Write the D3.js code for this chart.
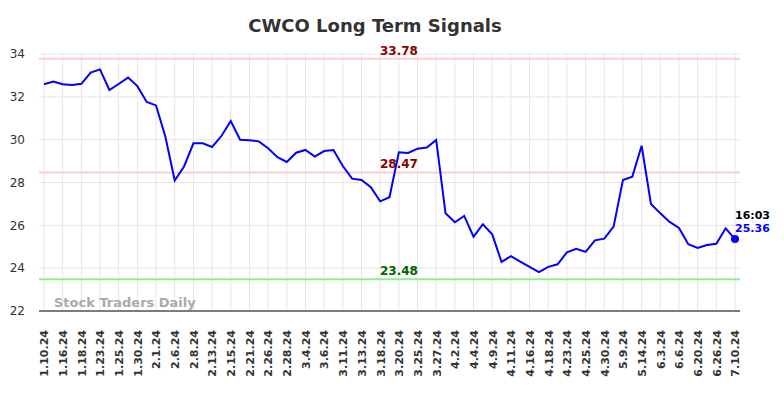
<!DOCTYPE html>
<html>
<head>
<meta charset="utf-8">
<script src="https://cdn.jsdelivr.net/npm/d3@7"></script>
<style>
  body { margin: 0; background: #fff; }
  svg { font-family: "DejaVu Sans", sans-serif; }
</style>
</head>
<body>
<div id="chart-area"></div>
<script>
// tick labels (one every other trading point)
var dateLabels = ["1.10.24","1.16.24","1.18.24","1.23.24","1.25.24","1.30.24","2.1.24","2.6.24",
  "2.8.24","2.13.24","2.15.24","2.21.24","2.26.24","2.28.24","3.4.24","3.6.24","3.11.24",
  "3.13.24","3.18.24","3.20.24","3.25.24","3.27.24","4.2.24","4.4.24","4.9.24","4.11.24",
  "4.16.24","4.18.24","4.23.24","4.25.24","4.30.24","5.9.24","5.14.24","6.3.24","6.6.24",
  "6.20.24","6.26.24","7.10.24"];

var prices = [32.59,32.71,32.59,32.55,32.61,33.13,33.28,32.32,32.60,32.90,
  32.50,31.76,31.60,30.14,28.09,28.75,29.83,29.83,29.66,30.17,
  30.87,30.00,29.97,29.92,29.60,29.18,28.96,29.39,29.52,29.21,
  29.47,29.52,28.77,28.18,28.12,27.78,27.12,27.31,29.41,29.38,
  29.58,29.63,29.99,26.56,26.14,26.44,25.47,26.05,25.58,24.29,
  24.56,24.31,24.06,23.82,24.06,24.18,24.74,24.90,24.76,25.30,
  25.38,25.94,28.12,28.27,29.72,27.00,26.56,26.16,25.88,25.12,
  24.94,25.08,25.14,25.86,25.36];

var signalValues = [33.78, 28.47, 23.48];
var signalKinds = ["resistance", "resistance", "support"];
var yTicks = [22, 24, 26, 28, 30, 32, 34];
var lastTime = "16:03";

var width = 784, height = 398;
var plotL = 39, plotR = 740, plotT = 54, plotB = 311;

var svg = d3.select("#chart-area").append("svg")
  .attr("width", width)
  .attr("height", height);

var x = d3.scalePoint()
  .domain(d3.range(prices.length))
  .range([plotL + 5, plotR - 5]);

var y = d3.scaleLinear()
  .domain([22, 34])
  .range([plotB, plotT]);

// title
svg.append("text")
  .attr("x", 375)
  .attr("y", 32)
  .attr("text-anchor", "middle")
  .attr("font-size", 18)
  .attr("font-weight", "bold")
  .attr("fill", "#333")
  .text("CWCO Long Term Signals");

// horizontal grid
svg.append("g")
  .selectAll("line")
  .data(yTicks)
  .enter().append("line")
    .attr("x1", plotL).attr("x2", plotR)
    .attr("y1", d => y(d)).attr("y2", d => y(d))
    .attr("stroke", "#e6e6e6");

// vertical grid
var tickIdx = d3.range(0, prices.length, 2);
svg.append("g")
  .selectAll("line")
  .data(tickIdx)
  .enter().append("line")
    .attr("x1", d => x(d)).attr("x2", d => x(d))
    .attr("y1", plotT - 1).attr("y2", plotB)
    .attr("stroke", "#e6e6e6");

// y labels
svg.append("g")
  .selectAll("text")
  .data(yTicks)
  .enter().append("text")
    .attr("x", 25)
    .attr("y", d => y(d))
    .attr("dy", "0.35em")
    .attr("text-anchor", "end")
    .attr("font-size", 12)
    .attr("fill", "#333")
    .text(d => d);

// watermark
svg.append("text")
  .attr("x", 54)
  .attr("y", 307)
  .attr("font-size", 13)
  .attr("font-weight", "bold")
  .attr("fill", "#aaa")
  .text("Stock Traders Daily");

// signal lines
signalValues.forEach((v, i) => {
  var sup = signalKinds[i] == "support";
  svg.append("line")
    .attr("x1", plotL).attr("x2", plotR)
    .attr("y1", y(v)).attr("y2", y(v))
    .attr("stroke", sup ? "#90ee90" : "#ffcccc")
    .attr("stroke-width", 2);
  svg.append("text")
    .attr("x", 399)
    .attr("y", y(v) - 4)
    .attr("text-anchor", "middle")
    .attr("font-size", 12)
    .attr("font-weight", "bold")
    .attr("fill", sup ? "#006400" : "#8b0000")
    .text(v.toFixed(2));
});

// x axis
var xAxis = d3.axisBottom(x)
  .tickValues(tickIdx)
  .tickSize(0)
  .tickFormat(d => dateLabels[d / 2]);

var gx = svg.append("g")
  .attr("transform", "translate(0," + plotB + ")")
  .call(xAxis);
gx.select(".domain").remove();
gx.append("line")
  .attr("x1", plotL).attr("x2", plotR)
  .attr("stroke", "#555").attr("stroke-width", 1.5);
gx.selectAll("text")
  .attr("transform", "rotate(-90)")
  .attr("x", -19)
  .attr("y", 0)
  .attr("dy", "0.35em")
  .attr("text-anchor", "end")
  .attr("font-family", "DejaVu Sans, sans-serif")
  .attr("font-size", 11)
  .attr("font-weight", "bold")
  .attr("fill", "#333");

// price line
var line = d3.line()
  .x((d, i) => x(i))
  .y(d => y(d));

svg.append("path")
  .datum(prices)
  .attr("d", line)
  .attr("fill", "none")
  .attr("stroke", "#0000ff")
  .attr("stroke-width", 2);

// last point
var last = prices.length - 1;
svg.append("circle")
  .attr("cx", x(last))
  .attr("cy", y(prices[last]))
  .attr("r", 4)
  .attr("fill", "#0000ff");

svg.append("text")
  .attr("x", x(last))
  .attr("y", 219)
  .attr("font-size", 11)
  .attr("font-weight", "bold")
  .attr("fill", "#000")
  .text(lastTime);

svg.append("text")
  .attr("x", x(last))
  .attr("y", 232)
  .attr("font-size", 11)
  .attr("font-weight", "bold")
  .attr("fill", "#0000ff")
  .text(prices[last].toFixed(2));
</script>
</body>
</html>
